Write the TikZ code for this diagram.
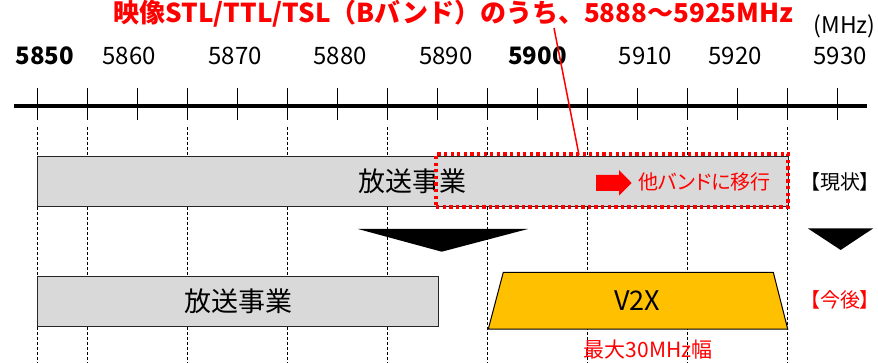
\documentclass[tikz,border=0pt]{standalone}
\usepackage{fontspec}
\setmainfont{Noto Sans CJK JP}
\newfontfamily\paltfont{Noto Sans CJK JP}[RawFeature=+palt]
\usepackage{xcolor}
\usepackage{tikz}
\usetikzlibrary{positioning}
\definecolor{bandgray}{HTML}{D9D9D9}
\definecolor{v2xgold}{HTML}{FFC000}
\definecolor{alertred}{HTML}{FF0000}

\begin{document}
\begin{tikzpicture}[x=1pt, y=-1pt, every node/.style={inner sep=0pt, align=center}, freq/.style={anchor=base, font=\fontsize{24}{26}\selectfont}, band/.style={rectangle, draw=black!85, fill=bandgray, line width=1pt, minimum height=50pt, font=\fontsize{27}{30}\selectfont}, note/.style={text=alertred, font=\paltfont\fontsize{20}{22}\selectfont}, tag/.style={font=\paltfont\fontsize{20}{22}\selectfont}, gridline/.style={line width=0.7pt, dash pattern=on 3pt off 2pt}]
\useasboundingbox (0,0) rectangle (878,363);
% frequency scale
\coordinate (axleft) at (14,106);
\coordinate (axright) at (867,106);
\draw[line width=3.5pt] (axleft) -- (axright);
\foreach \k in {0,...,16}
  \draw[line width=1.5pt] (37.7+50*\k,88) -- (37.7+50*\k,120);
\foreach \k in {0,1,3,5,7,9,11,13,15}
  \draw[gridline] (37.7+50*\k,127) -- (37.7+50*\k,363);
\node[freq, font=\bfseries\fontsize{24}{26}\selectfont] (f5850) at (45,65) {5850};
\node[freq, font=\bfseries\fontsize{24}{26}\selectfont] (f5900) at (537.5,65) {5900};
\foreach \f/\x in {5860/129, 5870/235, 5880/340, 5890/445.7, 5910/645.5, 5920/735, 5930/840}
  \node[freq] (f\f) at (\x,65) {\f};
\node[anchor=base, font=\fontsize{23}{25}\selectfont] (unit) at (844.5,33.5) {(MHz)};
\node[anchor=base, text=alertred, font=\bfseries\fontsize{26}{28}\selectfont] (title) at (453.5,22.5) {映像STL/TTL/TSL（Bバンド）のうち、5888～5925MHz};
% current use
\node[band, minimum width=750.3pt] (nowbc) at (412.85,181.7) {放送事業};
\node[draw=alertred, line width=3.3pt, dash pattern=on 3.3pt off 3.3pt, minimum width=352pt, minimum height=53pt] (moved) at (612,180.5) {};
\fill[alertred] (596,175) -- (619,175) -- (619,170) -- (631.7,183) -- (619,195.5) -- (619,191) -- (596,191) -- cycle;
\node[note, anchor=west] (movenote) at (638,182) {他バンドに移行};
\node[tag] (nowtag) at (840,182) {【現状】};
% transition
\fill (358,229) -- (528,229) -- (441.7,251.7) -- cycle;
\fill (808,228.5) -- (873,228.5) -- (840.7,250) -- cycle;
% future use
\node[band, minimum width=401pt] (futbc) at (238.2,301.7) {放送事業};
\draw[fill=v2xgold, line width=1pt] (488.3,329) -- (503.3,272.3) -- (773.3,272.3) -- (787.7,329) -- cycle;
\node[font=\fontsize{27}{30}\selectfont] (v2x) at (637,301) {V2X};
\node[note] (futtag) at (840,300) {【今後】};
\node[note, font=\fontsize{21}{23}\selectfont] (width) at (648,350) {最大30MHz幅};
% pointer from title
\coordinate (lead) at (554,28);
\coordinate (movetop) at (579,155);
\draw[alertred, line width=1.5pt] (lead) -- (movetop);
\end{tikzpicture}
\end{document}
